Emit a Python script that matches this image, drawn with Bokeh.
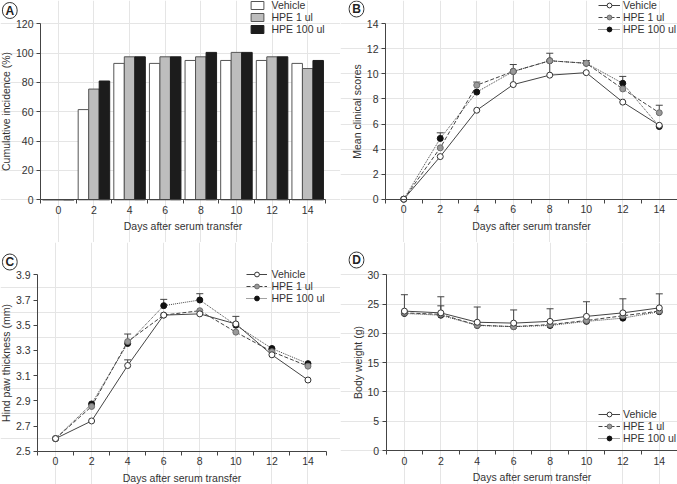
from bokeh.plotting import figure
from bokeh.models import (Range1d, FixedTicker, Legend, LegendItem, Label,
                          Whisker, TeeHead, ColumnDataSource, LinearAxis)
from bokeh.layouts import column, row
from bokeh.transform import dodge
from bokeh.embed import file_html
from bokeh.resources import INLINE

# ---------------- data ----------------
days = [0, 2, 4, 6, 8, 10, 12, 14]
odd_days = [-1, 1, 3, 5, 7, 9, 11, 13, 15]
series_names = ["Vehicle", "HPE 1 ul", "HPE 100 ul"]

# A: cumulative incidence (%)
incidence_vehicle = [0, 61.5, 93, 93, 95, 95, 95, 93]
incidence_hpe1 = [0, 75.5, 97.5, 97.5, 97.5, 100.5, 97.5, 89.5]
incidence_hpe100 = [0, 81, 97.5, 97.5, 100.5, 100.5, 97.5, 95]
a_yticks = [0, 20, 40, 60, 80, 100, 120]

# B: mean clinical scores
score_vehicle = [0, 3.4, 7.1, 9.15, 9.9, 10.1, 7.75, 5.9]
score_hpe1 = [0, 4.1, 9.1, 10.2, 11.05, 10.85, 8.8, 6.9]
score_hpe100 = [0, 4.85, 8.55, 10.2, 11.05, 10.85, 9.25, 5.8]
score_vehicle_err = [0, 0, 0, 1.6, 1.75, 0, 0, 0]
score_hpe1_err = [0, 0, 0.25, 0, 0, 0, 0, 0.6]
score_hpe100_err = [0, 0.45, 0, 0, 0, 0.22, 0.55, 0]
b_yticks = [0, 2, 4, 6, 8, 10, 12, 14]

# C: hind paw thickness (mm)
paw_vehicle = [2.6, 2.74, 3.18, 3.58, 3.59, 3.51, 3.265, 3.065]
paw_hpe1 = [2.6, 2.855, 3.37, 3.58, 3.615, 3.445, 3.29, 3.175]
paw_hpe100 = [2.6, 2.875, 3.355, 3.655, 3.70, 3.50, 3.315, 3.195]
paw_vehicle_err = [0, 0, 0.045, 0, 0, 0.06, 0, 0]
paw_hpe1_err = [0, 0, 0.06, 0, 0, 0, 0, 0]
paw_hpe100_err = [0, 0, 0, 0.05, 0.05, 0, 0, 0]
c_yticks = [2.5, 2.7, 2.9, 3.1, 3.3, 3.5, 3.7, 3.9]

# D: body weight (g)
weight_vehicle = [23.8, 23.5, 21.9, 21.75, 22.05, 22.9, 23.5, 24.35]
weight_hpe1 = [23.5, 23.25, 21.4, 21.15, 21.5, 22.2, 23.0, 23.8]
weight_hpe100 = [23.4, 23.1, 21.35, 21.15, 21.35, 22.05, 22.6, 23.7]
weight_vehicle_err = [2.8, 2.75, 2.6, 2.25, 2.15, 2.5, 2.4, 2.4]
weight_hpe1_err = [0, 1.45, 0, 0, 0, 0, 0, 0]
weight_hpe100_err = [0, 0, 0, 0, 0, 0, 0, 0]
d_yticks = [0, 5, 10, 15, 20, 25, 30]

x_label = "Days after serum transfer"

# ---------------- styles ----------------
FONT = "Liberation Sans"
FS = "10.5px"
TXT = "#333333"
AX = "#444444"
LINE = "#444444"

L_W, R_W = 340, 337
ROW_H = 242
X_LO, X_HI = -1, 15


def make_fig(W, H, x_px, y_px, y0, y1, ylabel, yticks):
    """x_px: pixel columns of x=-1 and x=15; y_px: pixel rows of y0 and y1."""
    sx = (x_px[1] - x_px[0]) / (X_HI - X_LO)
    xs = X_LO - x_px[0] / sx
    xe = X_HI + (W - x_px[1]) / sx
    sy = (y_px[0] - y_px[1]) / (y1 - y0)
    ys = y0 - (H - y_px[0]) / sy
    ye = y1 + y_px[1] / sy
    p = figure(width=W, height=H, x_range=Range1d(xs, xe), y_range=Range1d(ys, ye),
               x_axis_location=None, y_axis_location=None, title=None,
               output_backend="svg", toolbar_location=None,
               min_border_left=0, min_border_right=0,
               min_border_top=0, min_border_bottom=0)
    p.outline_line_color = None
    p.background_fill_color = "white"
    p.border_fill_color = "white"

    xaxis = LinearAxis(fixed_location=y0, bounds=(X_LO, X_HI),
                       ticker=FixedTicker(ticks=days, minor_ticks=odd_days))
    xaxis.major_tick_line_color = None
    xaxis.major_tick_out = 0
    xaxis.major_tick_in = 0
    xaxis.minor_tick_out = 4
    xaxis.minor_tick_in = 0
    xaxis.minor_tick_line_color = AX
    xaxis.major_label_standoff = 2
    xaxis.axis_label = x_label
    xaxis.axis_label_standoff = 3

    yaxis = LinearAxis(fixed_location=X_LO, bounds=(y0, y1),
                       ticker=FixedTicker(ticks=yticks))
    yaxis.major_tick_out = 4
    yaxis.major_tick_in = 0
    yaxis.minor_tick_line_color = None
    yaxis.major_tick_line_color = AX
    yaxis.major_label_standoff = 3
    yaxis.axis_label = ylabel
    yaxis.axis_label_standoff = 1

    for ax in (xaxis, yaxis):
        ax.axis_line_color = AX
        ax.axis_line_width = 1
        ax.major_label_text_font = FONT
        ax.major_label_text_font_size = FS
        ax.major_label_text_color = TXT
        ax.axis_label_text_font = FONT
        ax.axis_label_text_font_size = FS
        ax.axis_label_text_color = TXT
        ax.axis_label_text_font_style = "normal"
    p.add_layout(xaxis, "below")
    p.add_layout(yaxis, "left")
    return p


def panel_letter(p, letter, cx, cy):
    # cx, cy: pixel centre of the circled letter from the figure's top-left
    lab = Label(x=cx, y=ROW_H - cy, x_units="screen", y_units="screen",
                text=letter, text_font=FONT, text_font_size="12px",
                text_font_style="bold", text_color="#222222",
                text_align="center", text_baseline="middle",
                background_fill_color="white", border_line_color="#333333",
                border_line_width=1, padding=(3, 1), border_radius=8)
    p.add_layout(lab)


def make_legend(items, left, top, glyph_w, glyph_h, standoff):
    # left/top: pixel position of the legend from the figure's top-left
    n = len(items)
    row_h = 11.7
    lg = Legend(items=items, location=(left, ROW_H - top - n * row_h),
                glyph_width=glyph_w, glyph_height=glyph_h, label_height=10,
                spacing=0, padding=0, margin=0, label_standoff=standoff,
                border_line_color=None, background_fill_alpha=0,
                label_text_font=FONT, label_text_font_size=FS,
                label_text_color=TXT)
    return lg


# ---------------- panel A ----------------
pA = make_fig(L_W, ROW_H, (40, 325), (199.3, 23.3), 0, 120,
              "Cumulative incidence (%)", a_yticks)
srcA = ColumnDataSource(dict(day=days, veh=incidence_vehicle,
                             h1=incidence_hpe1, h100=incidence_hpe100))
bw = 0.59
rA1 = pA.vbar(x=dodge("day", -bw, range=pA.x_range), top="veh", width=bw,
              source=srcA, fill_color="white", line_color="#555555", line_width=1)
rA2 = pA.vbar(x="day", top="h1", width=bw, source=srcA,
              fill_color="#bdbdbd", line_color="#555555", line_width=1)
rA3 = pA.vbar(x=dodge("day", bw, range=pA.x_range), top="h100", width=bw,
              source=srcA, fill_color="#1c1c1c", line_color="#1c1c1c", line_width=1)
pA.add_layout(make_legend([LegendItem(label=series_names[0], renderers=[rA1]),
                           LegendItem(label=series_names[1], renderers=[rA2]),
                           LegendItem(label=series_names[2], renderers=[rA3])],
                          248.5, 0, 16, 10, 7))
panel_letter(pA, "A", 9.3, 10)


# ---------------- line panels ----------------
def line_panel(p, veh, h1, h100, veh_err, h1_err, h100_err, leg_left, leg_top, gw, so):
    specs = [
        (h100, h100_err, "1 1", "#111111", "#111111"),
        (h1, h1_err, "4 2", "#999999", "#6e6e6e"),
        (veh, veh_err, "solid", "white", "#333333"),
    ]
    rends = []
    for vals, errs, dash, fill, mline in specs:
        rends.append(p.line(days, vals, line_color=LINE, line_width=1, line_dash=dash))
    for vals, errs, dash, fill, mline in specs:
        bx = [d for d, e in zip(days, errs) if e > 0]
        lo = [v for v, e in zip(vals, errs) if e > 0]
        hi = [v + e for v, e in zip(vals, errs) if e > 0]
        if bx:
            ws = ColumnDataSource(dict(x=bx, lo=lo, hi=hi))
            p.add_layout(Whisker(source=ws, base="x", lower="lo", upper="hi",
                                 dimension="height", line_color=LINE, line_width=1,
                                 upper_head=TeeHead(size=7, line_color=LINE, line_width=1),
                                 lower_head=None))
    marks = []
    for vals, errs, dash, fill, mline in specs:
        marks.append(p.scatter(days, vals, marker="circle", size=6, fill_color=fill,
                               line_color=mline, line_width=1))
    items = [LegendItem(label=series_names[0], renderers=[rends[2], marks[2]]),
             LegendItem(label=series_names[1], renderers=[rends[1], marks[1]]),
             LegendItem(label=series_names[2], renderers=[rends[0], marks[0]])]
    p.add_layout(make_legend(items, leg_left, leg_top, gw, 12, so))


pB = make_fig(R_W, ROW_H, (45, 337), (198.7, 23.3), 0, 14,
              "Mean clinical scores", b_yticks)
line_panel(pB, score_vehicle, score_hpe1, score_hpe100,
           score_vehicle_err, score_hpe1_err, score_hpe100_err, 258, 0, 22, 3)
panel_letter(pB, "B", 16, 8.5)

pC = make_fig(L_W, ROW_H, (37, 325.5), (208.7, 32.3), 2.5, 3.9,
              "Hind paw thickness (mm)", c_yticks)
line_panel(pC, paw_vehicle, paw_hpe1, paw_hpe100,
           paw_vehicle_err, paw_hpe1_err, paw_hpe100_err, 245.5, 26.5, 21, 5)
panel_letter(pC, "C", 9.3, 19.5)

pD = make_fig(R_W, ROW_H, (45.7, 337), (208, 32.3), 0, 30,
              "Body weight (g)", d_yticks)
line_panel(pD, weight_vehicle, weight_hpe1, weight_hpe100,
           weight_vehicle_err, weight_hpe1_err, weight_hpe100_err, 258, 166.5, 22, 3)
panel_letter(pD, "D", 16, 17.5)

layout = column(row(pA, pB), row(pC, pD))
open("out.html", "w").write(file_html(layout, INLINE))
